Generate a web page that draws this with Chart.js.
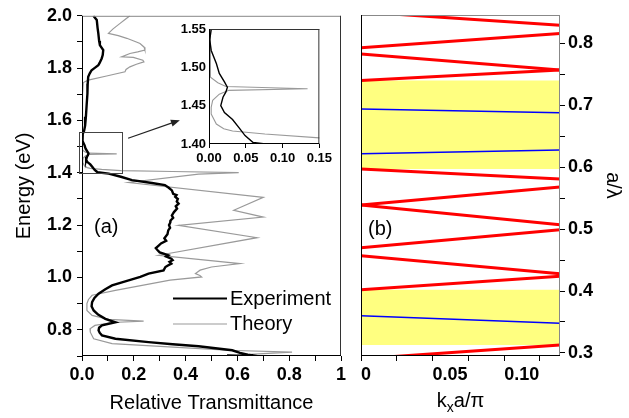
<!DOCTYPE html>
<html>
<head>
<meta charset="utf-8">
<script src="https://cdn.jsdelivr.net/npm/chart.js@4.4.0/dist/chart.umd.min.js"></script>
<style>
  body { margin: 0; background: #fff; width: 629px; height: 418px; position: relative; overflow: hidden; }
  canvas { position: absolute; }
</style>
</head>
<body>
<canvas id="bands" width="288" height="418" style="left:341px;top:0"></canvas>
<canvas id="spectra" width="362" height="418" style="left:0;top:0"></canvas>
<canvas id="inset" width="170" height="162" style="left:165px;top:12px"></canvas>
<script>
// panel (a): measured transmittance, energy in eV
const expEnergy = [2.000, 1.984, 1.955, 1.933, 1.905, 1.888, 1.869, 1.850, 1.837, 1.820, 1.811, 1.800, 1.792, 1.780, 1.767,
  1.740, 1.703, 1.660, 1.614, 1.580, 1.560, 1.549, 1.536, 1.522, 1.505, 1.492, 1.481, 1.474, 1.468, 1.461, 1.450, 1.441,
  1.432, 1.421, 1.411, 1.402, 1.397, 1.385, 1.372, 1.361, 1.353, 1.343, 1.333, 1.320, 1.315, 1.308, 1.300, 1.290, 1.282,
  1.272, 1.263, 1.250, 1.237, 1.228, 1.218, 1.210, 1.200, 1.190, 1.180, 1.165, 1.150, 1.140, 1.130, 1.122, 1.112, 1.104,
  1.096, 1.091, 1.085, 1.080, 1.072, 1.066, 1.060, 1.053, 1.045, 1.040, 1.027,
  1.015, 1.002, 0.989, 0.970, 0.955, 0.938, 0.922, 0.906, 0.890, 0.874, 0.858, 0.842, 0.829, 0.817, 0.808, 0.798, 0.789,
  0.779, 0.766, 0.753, 0.745, 0.737, 0.722, 0.712, 0.705, 0.702, 0.700, 0.701, 0.700];
const expTrans = [0.044, 0.057, 0.060, 0.063, 0.066, 0.069, 0.082, 0.080, 0.076, 0.068, 0.063, 0.048, 0.037, 0.030, 0.024,
  0.022, 0.021, 0.018, 0.015, 0.012, 0.008, 0.003, 0.001, 0.003, 0.010, 0.014, 0.021, 0.025, 0.023, 0.019, 0.016, 0.021,
  0.032, 0.041, 0.049, 0.060, 0.103, 0.150, 0.193, 0.270, 0.320, 0.335, 0.347, 0.352, 0.365, 0.360, 0.370, 0.366, 0.373,
  0.362, 0.367, 0.355, 0.347, 0.352, 0.342, 0.341, 0.336, 0.340, 0.333, 0.330, 0.318, 0.325, 0.305, 0.296, 0.285, 0.292,
  0.300, 0.315, 0.333, 0.325, 0.345, 0.350, 0.338, 0.345, 0.330, 0.322, 0.315,
  0.257, 0.225, 0.180, 0.116, 0.090, 0.064, 0.048, 0.039, 0.037, 0.045, 0.062, 0.090, 0.129, 0.077, 0.066, 0.064, 0.068,
  0.077, 0.129, 0.257, 0.350, 0.450, 0.580, 0.610, 0.640, 0.660, 0.620, 0.560, 0.670];

// panel (a): calculated transmittance
const theoryEnergy = [2.000, 1.985, 1.971, 1.950, 1.933, 1.924, 1.914, 1.900, 1.894, 1.880, 1.869, 1.862, 1.856, 1.843,
  1.841, 1.830, 1.824, 1.815, 1.805, 1.795, 1.786, 1.770, 1.754, 1.745, 1.700, 1.600, 1.520, 1.487, 1.480, 1.475, 1.472,
  1.470, 1.465, 1.457, 1.448, 1.439, 1.426, 1.420, 1.417, 1.413, 1.408, 1.405, 1.401, 1.395, 1.363, 1.306, 1.257, 1.231,
  1.199, 1.152, 1.085, 1.053, 1.040, 1.028, 1.015, 1.008, 1.002, 0.990, 0.951, 0.932, 0.916, 0.900, 0.874, 0.855, 0.840,
  0.833, 0.828, 0.817, 0.804, 0.791, 0.766, 0.747, 0.732, 0.722, 0.715, 0.709, 0.703];
const theoryTrans = [0.185, 0.165, 0.147, 0.120, 0.102, 0.140, 0.173, 0.210, 0.224, 0.240, 0.243, 0.215, 0.185, 0.153,
  0.198, 0.235, 0.239, 0.210, 0.185, 0.170, 0.166, 0.095, 0.024, 0.005, 0.002, 0.002, 0.002, 0.002, 0.012, 0.023, 0.134,
  0.027, 0.014, 0.005, 0.003, 0.003, 0.010, 0.020, 0.032, 0.076, 0.150, 0.350, 0.605, 0.450, 0.180, 0.700, 0.586, 0.700,
  0.373, 0.676, 0.296, 0.610, 0.500, 0.456, 0.438, 0.455, 0.462, 0.340, 0.129, 0.039, 0.025, 0.019, 0.019, 0.039, 0.103,
  0.238, 0.116, 0.050, 0.031, 0.032, 0.045, 0.116, 0.386, 0.560, 0.811, 0.700, 0.600];

// panel (b): band diagram, a/lambda at kx = 0 and at the edge of the plotted range
const kxRange = [0, 0.139];
const redStart = [0.851, 0.793, 0.783, 0.740, 0.597, 0.539, 0.539, 0.470, 0.457, 0.402, 0.2905];
const redEnd   = [0.8295, 0.816, 0.757, 0.757, 0.581, 0.568, 0.507, 0.499, 0.428, 0.424, 0.3126];
const blueStart = [0.694, 0.622, 0.360];
const blueEnd   = [0.688, 0.628, 0.348];
const gapLow  = [0.3126, 0.597];
const gapHigh = [0.402, 0.740];

const FAMILY = '"Liberation Sans", Arial, sans-serif';
Chart.defaults.font.family = FAMILY;
Chart.defaults.color = '#000';

const pts = (xs, ys) => xs.map((x, i) => ({ x: x, y: ys[i] }));
const isStep = (v, n) => Math.abs(v * n - Math.round(v * n)) < 1e-6;

function axisLook(tickLen, size) {
  return {
    grid: { drawOnChartArea: false, drawTicks: true, tickLength: tickLen, tickColor: '#000' },
    border: { display: false },
    ticks: { font: { family: FAMILY, size: size, weight: 'bold' }, color: '#000', padding: 3, maxRotation: 0, autoSkip: false }
  };
}

function frame(ctx, a, left, bottom, top, right) {
  ctx.save();
  ctx.lineWidth = 1;
  const seg = (c, x1, y1, x2, y2) => { ctx.strokeStyle = c; ctx.beginPath(); ctx.moveTo(x1, y1); ctx.lineTo(x2, y2); ctx.stroke(); };
  seg(top, a.left, a.top + 0.5, a.right, a.top + 0.5);
  seg(right, a.right - 0.5, a.top, a.right - 0.5, a.bottom);
  seg(left, a.left + 0.5, a.top, a.left + 0.5, a.bottom);
  seg(bottom, a.left, a.bottom - 0.5, a.right, a.bottom - 0.5);
  ctx.restore();
}

// ---------- panel (a) ----------
const spectraX = axisLook(5, 18);
spectraX.type = 'linear';
spectraX.min = 0; spectraX.max = 1;
spectraX.ticks.stepSize = 0.1;
spectraX.ticks.callback = v => isStep(v, 5) ? (Math.abs(v - 1) < 1e-6 ? '1' : v.toFixed(1)) : '';
spectraX.title = { display: true, text: 'Relative Transmittance', font: { size: 20 }, padding: { top: 0, bottom: 3 } };
spectraX.afterFit = s => { s.height = 62; };

const spectraY = axisLook(5, 18);
spectraY.min = 0.7; spectraY.max = 2.0;
spectraY.ticks.stepSize = 0.1;
spectraY.ticks.padding = 5;
spectraY.ticks.callback = v => isStep(v, 5) ? v.toFixed(1) : '';
spectraY.title = { display: true, text: 'Energy (eV)', font: { size: 20 }, padding: { top: 12, bottom: 0 } };
spectraY.afterFit = s => { s.width = 82; };

const spectraDecor = {
  id: 'spectraDecor',
  afterDraw(chart) {
    const ctx = chart.ctx, a = chart.chartArea, sx = chart.scales.x, sy = chart.scales.y;
    frame(ctx, a, '#000', '#000', '#888', '#333');
    ctx.save();
    // box marking the zoomed region
    const x1 = sx.getPixelForValue(-0.012), x2 = sx.getPixelForValue(0.155);
    const y1 = sy.getPixelForValue(1.555), y2 = sy.getPixelForValue(1.40);
    ctx.strokeStyle = '#444'; ctx.lineWidth = 1;
    ctx.strokeRect(Math.round(x1) + 0.5, Math.round(y1) + 0.5, Math.round(x2 - x1), Math.round(y2 - y1));
    // arrow towards the inset
    const ax = sx.getPixelForValue(0.178), ay = sy.getPixelForValue(1.532);
    const bx = sx.getPixelForValue(0.378), by = sy.getPixelForValue(1.601);
    const ang = Math.atan2(by - ay, bx - ax);
    ctx.strokeStyle = '#222'; ctx.fillStyle = '#222'; ctx.lineWidth = 1.2;
    ctx.beginPath(); ctx.moveTo(ax, ay); ctx.lineTo(bx - 6 * Math.cos(ang), by - 6 * Math.sin(ang)); ctx.stroke();
    ctx.beginPath();
    ctx.moveTo(bx, by);
    ctx.lineTo(bx - 9 * Math.cos(ang) + 3.5 * Math.sin(ang), by - 9 * Math.sin(ang) - 3.5 * Math.cos(ang));
    ctx.lineTo(bx - 9 * Math.cos(ang) - 3.5 * Math.sin(ang), by - 9 * Math.sin(ang) + 3.5 * Math.cos(ang));
    ctx.closePath(); ctx.fill();
    // legend
    ctx.lineWidth = 2.2; ctx.strokeStyle = '#000';
    ctx.beginPath(); ctx.moveTo(173, 298.5); ctx.lineTo(227, 298.5); ctx.stroke();
    ctx.lineWidth = 1.2; ctx.strokeStyle = '#9a9a9a';
    ctx.beginPath(); ctx.moveTo(173, 324); ctx.lineTo(227, 324); ctx.stroke();
    ctx.fillStyle = '#000';
    ctx.font = '20px ' + FAMILY;
    ctx.textBaseline = 'middle'; ctx.textAlign = 'left';
    ctx.fillText('Experiment', 230, 299);
    ctx.fillText('Theory', 230, 324);
    ctx.fillText('(a)', 94, 227);
    ctx.restore();
  }
};

new Chart(document.getElementById('spectra'), {
  type: 'line',
  data: {
    datasets: [
      { label: 'Experiment', data: pts(expTrans, expEnergy), borderColor: '#000', borderWidth: 2.4, pointRadius: 0, tension: 0 },
      { label: 'Theory', data: pts(theoryTrans, theoryEnergy), borderColor: '#9a9a9a', borderWidth: 1.2, pointRadius: 0, tension: 0 }
    ]
  },
  options: {
    responsive: false, animation: false, devicePixelRatio: 1,
    layout: { padding: { top: 15, right: 21, left: 0, bottom: 0 } },
    plugins: { legend: { display: false }, tooltip: { enabled: false } },
    scales: { x: spectraX, y: spectraY }
  },
  plugins: [spectraDecor]
});

// ---------- inset ----------
const insetX = axisLook(4, 13);
insetX.type = 'linear';
insetX.min = 0; insetX.max = 0.15;
insetX.ticks.stepSize = 0.05;
insetX.ticks.callback = v => v.toFixed(2);
insetX.afterFit = s => { s.height = 30; };

const insetY = axisLook(0, 13);
insetY.min = 1.40; insetY.max = 1.55;
insetY.ticks.stepSize = 0.05;
insetY.ticks.padding = 3;
insetY.ticks.callback = v => v.toFixed(2);
insetY.afterFit = s => { s.width = 44; };

new Chart(document.getElementById('inset'), {
  type: 'line',
  data: {
    datasets: [
      { label: 'Experiment', data: pts(expTrans, expEnergy), borderColor: '#000', borderWidth: 1.4, pointRadius: 0, tension: 0 },
      { label: 'Theory', data: pts(theoryTrans, theoryEnergy), borderColor: '#9a9a9a', borderWidth: 1.1, pointRadius: 0, tension: 0 }
    ]
  },
  options: {
    responsive: false, animation: false, devicePixelRatio: 1,
    layout: { padding: { top: 17, right: 12, left: 0, bottom: 0 } },
    plugins: { legend: { display: false }, tooltip: { enabled: false } },
    scales: { x: insetX, y: insetY }
  },
  plugins: [{ id: 'insetFrame', afterDraw(chart) { frame(chart.ctx, chart.chartArea, '#000', '#000', '#333', '#333'); } }]
});

// ---------- panel (b) ----------
const bandX = axisLook(5, 18);
bandX.type = 'linear';
bandX.min = kxRange[0]; bandX.max = kxRange[1];
bandX.ticks.stepSize = 0.025;
bandX.ticks.includeBounds = false;
bandX.ticks.align = 'start';
bandX.ticks.callback = v => isStep(v, 20) ? (Math.abs(v) < 1e-9 ? '0' : v.toFixed(2)) : '';
bandX.afterFit = s => { s.height = 62; };

const bandY = axisLook(5, 18);
bandY.position = 'right';
bandY.min = 0.295; bandY.max = 0.846;
bandY.ticks.stepSize = 0.05;
bandY.ticks.includeBounds = false;
bandY.ticks.callback = v => isStep(v, 10) ? v.toFixed(1) : '';
bandY.title = { display: true, text: 'a/\u03bb', font: { size: 20 }, padding: { top: 4, bottom: 0 } };
bandY.afterFit = s => { s.width = 69; };

const bandSets = [];
redStart.forEach((v, i) => bandSets.push({
  data: [{ x: kxRange[0], y: v }, { x: kxRange[1], y: redEnd[i] }],
  borderColor: '#ff0000', borderWidth: 3, pointRadius: 0, order: 1
}));
blueStart.forEach((v, i) => bandSets.push({
  data: [{ x: kxRange[0], y: v }, { x: kxRange[1], y: blueEnd[i] }],
  borderColor: '#0000ff', borderWidth: 1.5, pointRadius: 0, order: 1
}));
gapLow.forEach((v, i) => bandSets.push({
  data: [{ x: kxRange[0], y: gapHigh[i] }, { x: kxRange[1], y: gapHigh[i] }],
  borderWidth: 0, pointRadius: 0, backgroundColor: '#ffff80', fill: { value: v }, order: 10
}));

const bandDecor = {
  id: 'bandDecor',
  afterDraw(chart) {
    const ctx = chart.ctx, a = chart.chartArea;
    frame(ctx, a, '#000', '#000', '#888', '#888');
    ctx.save();
    ctx.fillStyle = '#000';
    ctx.font = '20px ' + FAMILY;
    ctx.textBaseline = 'middle'; ctx.textAlign = 'left';
    ctx.fillText('(b)', 27, 229);
    // axis title with subscript
    const cx = (a.left + a.right) / 2, ty = 401;
    const main = '20px ' + FAMILY, sub = '14px ' + FAMILY;
    ctx.font = main; const wk = ctx.measureText('k').width, wr = ctx.measureText('a/\u03c0').width;
    ctx.font = sub; const wx = ctx.measureText('x').width;
    let x = cx - (wk + wx + wr) / 2;
    ctx.font = main; ctx.fillText('k', x, ty); x += wk;
    ctx.font = sub; ctx.fillText('x', x, ty + 7); x += wx;
    ctx.font = main; ctx.fillText('a/\u03c0', x, ty);
    ctx.restore();
  }
};

new Chart(document.getElementById('bands'), {
  type: 'line',
  data: { datasets: bandSets },
  options: {
    responsive: false, animation: false, devicePixelRatio: 1,
    layout: { padding: { top: 15, right: 0, left: 20, bottom: 0 } },
    plugins: { legend: { display: false }, tooltip: { enabled: false } },
    scales: { x: bandX, y: bandY }
  },
  plugins: [bandDecor]
});
</script>
</body>
</html>
